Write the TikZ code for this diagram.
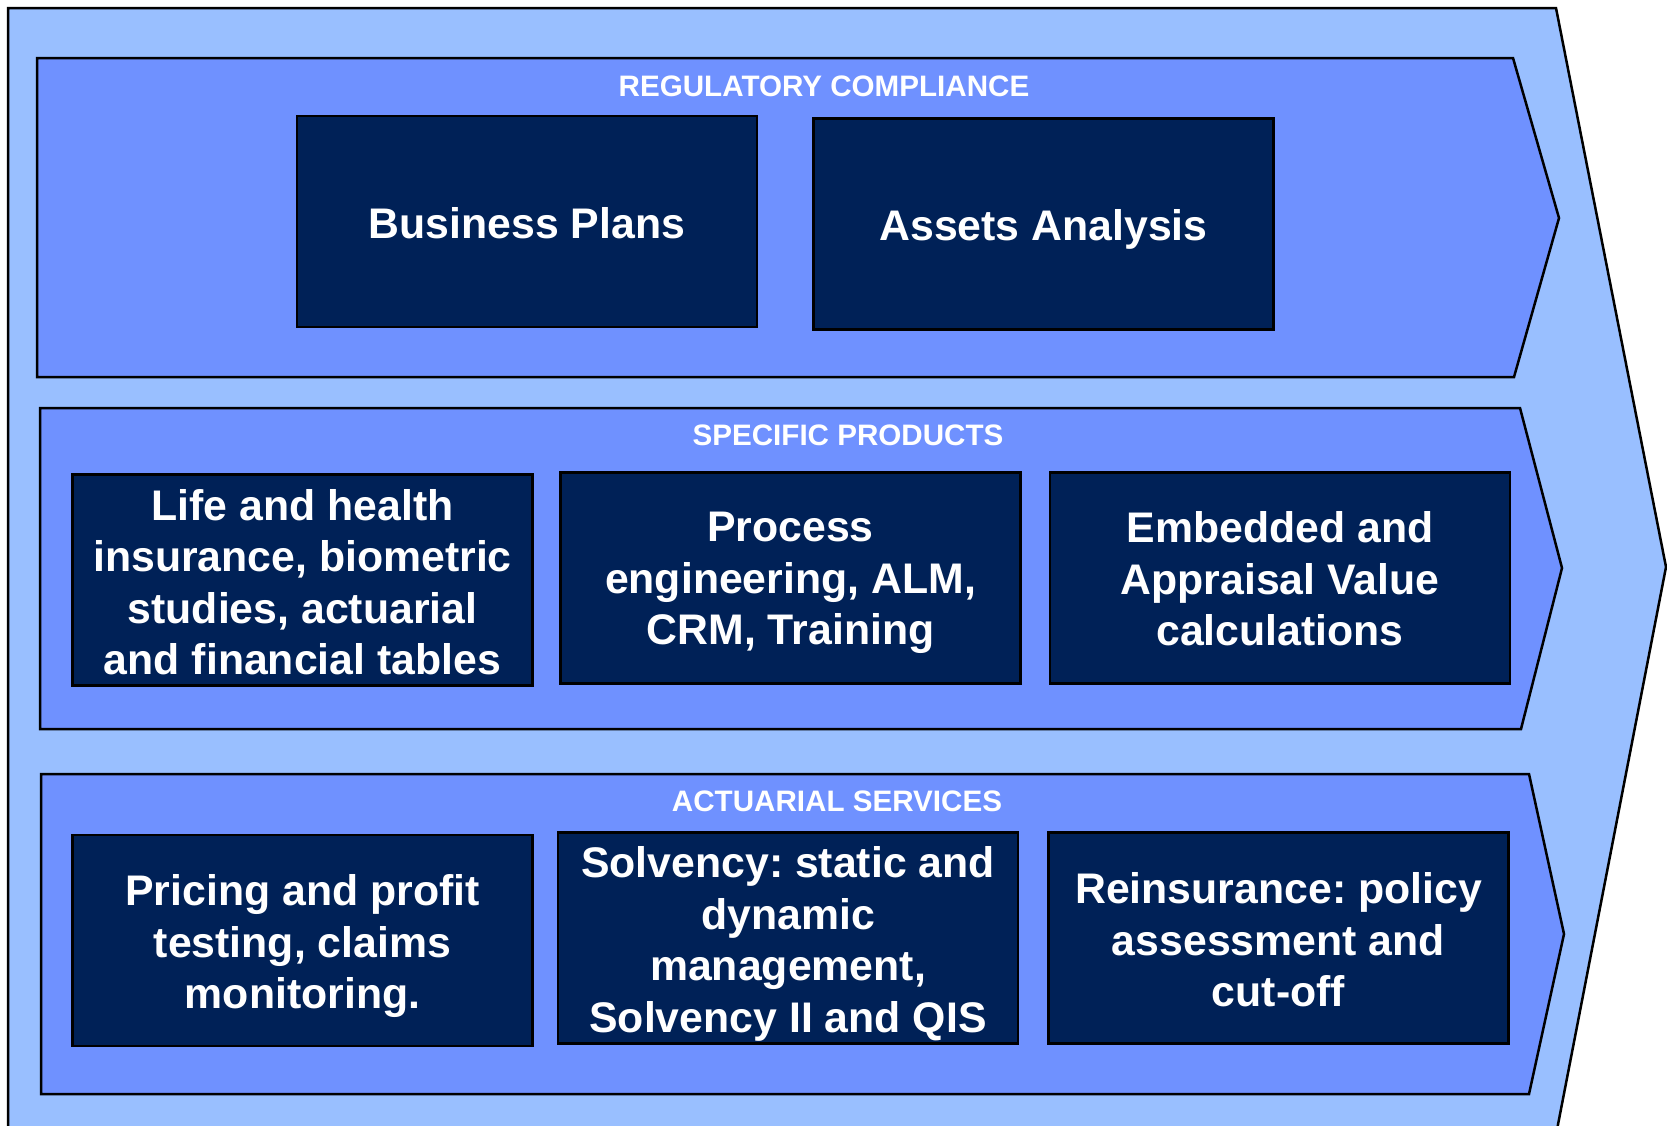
\documentclass[tikz,border=0pt]{standalone}
\usepackage{fontspec}
\setmainfont{Liberation Sans}
\frenchspacing
\definecolor{outerblue}{RGB}{153,191,255}
\definecolor{midblue}{RGB}{111,145,255}
\definecolor{darkblue}{RGB}{0,33,87}
\begin{document}
\begin{tikzpicture}[x=1pt,y=-1pt,
  outerband/.style={fill=outerblue,draw=black,line width=2.5pt,line join=miter},
  band/.style={fill=midblue,draw=black,line width=2.5pt,line join=miter},
  box/.style={fill=darkblue,draw=black,line width=2.5pt,
    minimum width=460pt,minimum height=211pt,inner sep=0pt},
  boxtext/.style={text=white,inner sep=0pt,align=center,
    font=\fontsize{42.8}{51.5}\selectfont\bfseries\frenchspacing},
  header/.style={text=white,anchor=base,inner sep=0pt,
    font=\fontsize{29.6}{35}\selectfont\bfseries}]
\useasboundingbox (0,0) rectangle (1667,1125);
\clip (0,0) rectangle (1667,1125);
% outer chevron
\draw[outerband] (8,1140) -- (8,8) -- (1556,8) -- (1666,567) -- (1555,1140);
% bands
\draw[band] (37,58) -- (1513,58) -- (1559,218) -- (1514,377) -- (37,377) -- cycle;
\draw[band] (40,408) -- (1520,408) -- (1562,568) -- (1521,729) -- (40,729) -- cycle;
\draw[band] (41,774) -- (1529,774) -- (1564,934) -- (1529,1094) -- (41,1094) -- cycle;
% headers
\node[header] (h1) at (824,96) {REGULATORY COMPLIANCE};
\node[header] (h2) at (848,445.5) {SPECIFIC PRODUCTS};
\node[header] (h3) at (837,811.5) {ACTUARIAL SERVICES};
% boxes
\node[box] (bp) at (527,221.5) {};
\node[box] (aa) at (1043.5,224) {};
\node[box] (life) at (302.5,580) {};
\node[box] (proc) at (790.5,578) {};
\node[box] (emb) at (1280,578) {};
\node[box] (price) at (302.5,940.5) {};
\node[box] (solv) at (788,938) {};
\node[box] (reins) at (1278.5,938) {};
% box texts
\node[boxtext] (bpt) at ([yshift=-2pt]bp.center) {Business Plans};
\node[boxtext] (aat) at ([yshift=-5pt]aa.center) {Assets Analysis};
\node[boxtext] (lifet) at ([yshift=-2pt]life.center) {Life and health\\insurance, biometric\\studies, actuarial\\and financial tables};
\node[boxtext] (proct) at ([yshift=-5pt]proc.center) {Process\\engineering, ALM,\\CRM, Training};
\node[boxtext] (embt) at ([yshift=-1pt]emb.center) {Embedded and\\Appraisal Value\\calculations};
\node[boxtext] (pricet) at ([yshift=-6pt]price.center) {Pricing and profit\\testing, claims\\monitoring.};
\node[boxtext] (solvt) at ([yshift=-6pt]solv.center) {Solvency: static and\\dynamic\\management,\\Solvency II and QIS};
\node[boxtext] (reinst) at ([yshift=-2pt]reins.center) {Reinsurance: policy\\assessment and\\cut-off};
\end{tikzpicture}
\end{document}
